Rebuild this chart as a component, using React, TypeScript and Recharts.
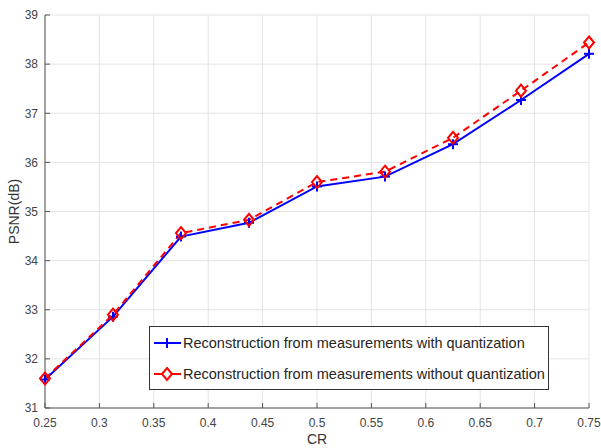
import React from 'react'
import {
  LineChart,
  Line,
  XAxis,
  YAxis,
  CartesianGrid,
  Legend,
} from 'recharts'

// compression ratio on the x axis
const crValues = [0.25, 0.3125, 0.375, 0.4375, 0.5, 0.5625, 0.625, 0.6875, 0.75]
const psnrWithQuant = [31.58, 32.86, 34.49, 34.77, 35.51, 35.71, 36.37, 37.27, 38.21]
const psnrWithoutQuant = [31.6, 32.9, 34.56, 34.83, 35.6, 35.81, 36.5, 37.46, 38.44]

const xTicks = [0.25, 0.3, 0.35, 0.4, 0.45, 0.5, 0.55, 0.6, 0.65, 0.7, 0.75]
const yTicks = [31, 32, 33, 34, 35, 36, 37, 38, 39]

const seriesNames = [
  'Reconstruction from measurements with quantization',
  'Reconstruction from measurements without quantization',
]

const BLUE = '#0000ff'
const RED = '#ff0000'
const FONT = '"Liberation Sans", Arial, Helvetica, sans-serif'
const AXIS_COLOR = '#555555'
const TICK_STYLE = { fontSize: 12, fill: '#444444', fontFamily: FONT }
const LABEL_STYLE = { fontSize: 14, fill: '#333333', fontFamily: FONT }

const chartData = crValues.map((cr, i) => ({
  cr,
  withQuant: psnrWithQuant[i],
  withoutQuant: psnrWithoutQuant[i],
}))

interface DotProps {
  cx?: number
  cy?: number
  index?: number
}

const PlusDot = ({ cx, cy }: DotProps): React.JSX.Element | null => {
  if (cx === undefined || cy === undefined) return null
  return (
    <g stroke={BLUE} strokeWidth={2}>
      <line x1={cx - 5} y1={cy} x2={cx + 5} y2={cy} />
      <line x1={cx} y1={cy - 5} x2={cx} y2={cy + 5} />
    </g>
  )
}

const DiamondDot = ({ cx, cy }: DotProps): React.JSX.Element | null => {
  if (cx === undefined || cy === undefined) return null
  return (
    <path
      d={`M${cx},${cy - 6} L${cx + 5},${cy} L${cx},${cy + 6} L${cx - 5},${cy} Z`}
      fill="none"
      stroke={RED}
      strokeWidth={2}
    />
  )
}

const LegendBox = (): React.JSX.Element => (
  <div
    style={{
      width: 398,
      height: 62,
      border: '1px solid #333333',
      background: '#ffffff',
      fontFamily: FONT,
      fontSize: 14.5,
      color: '#262626',
      boxSizing: 'content-box',
    }}
  >
    {seriesNames.map((name, i) => (
      <div
        key={name}
        style={{ display: 'flex', alignItems: 'center', height: 31, paddingLeft: 3 }}
      >
        <svg width={30} height={16} style={{ flex: 'none' }}>
          {i === 0 ? (
            <g stroke={BLUE} strokeWidth={2}>
              <line x1={1} y1={8} x2={28} y2={8} />
              <line x1={14} y1={3} x2={14} y2={13} />
            </g>
          ) : (
            <g stroke={RED} strokeWidth={2} fill="none">
              <line x1={1} y1={8} x2={28} y2={8} />
              <path d="M14,2 L19,8 L14,14 L9,8 Z" fill="#ffffff" />
            </g>
          )}
        </svg>
        <span style={{ whiteSpace: 'nowrap' }}>{name}</span>
      </div>
    ))}
  </div>
)

export default function App(): React.JSX.Element {
  return (
    <div style={{ position: 'absolute', left: 0, top: 0, width: 601, height: 448, background: '#ffffff' }}>
      <LineChart
        width={601}
        height={448}
        data={chartData}
        margin={{ top: 15, right: 12, left: 0, bottom: 0 }}
      >
        <CartesianGrid stroke="#e3e3e3" strokeWidth={1} />
        <XAxis
          dataKey="cr"
          type="number"
          domain={[0.25, 0.75]}
          ticks={xTicks}
          height={40}
          tickSize={-5}
          tickMargin={15}
          tick={TICK_STYLE}
          stroke={AXIS_COLOR}
          interval={0}
          label={{ value: 'CR', position: 'insideBottom', offset: 4, style: LABEL_STYLE }}
        />
        <XAxis
          xAxisId="top"
          orientation="top"
          type="number"
          domain={[0.25, 0.75]}
          allowDataOverflow
          ticks={xTicks}
          height={0}
          tickSize={-5}
          tick={false}
          stroke={AXIS_COLOR}
        />
        <YAxis
          type="number"
          domain={[31, 39]}
          ticks={yTicks}
          width={45}
          tickSize={-5}
          tickMargin={12}
          tick={TICK_STYLE}
          stroke={AXIS_COLOR}
          interval={0}
          label={{
            value: 'PSNR(dB)',
            angle: -90,
            position: 'insideLeft',
            offset: 14,
            style: { ...LABEL_STYLE, textAnchor: 'middle' },
          }}
        />
        <YAxis
          yAxisId="right"
          orientation="right"
          type="number"
          domain={[31, 39]}
          allowDataOverflow
          ticks={yTicks}
          width={0}
          tickSize={-5}
          tick={false}
          stroke={AXIS_COLOR}
        />
        <Line
          dataKey="withQuant"
          name={seriesNames[0]}
          stroke={BLUE}
          strokeWidth={2}
          dot={(p: DotProps) => <PlusDot key={`p-${String(p.index)}`} {...p} />}
          activeDot={false}
          isAnimationActive={false}
        />
        <Line
          dataKey="withoutQuant"
          name={seriesNames[1]}
          stroke={RED}
          strokeWidth={2}
          strokeDasharray="7 5"
          dot={(p: DotProps) => <DiamondDot key={`d-${String(p.index)}`} {...p} />}
          activeDot={false}
          isAnimationActive={false}
        />
        <Legend
          layout="horizontal"
          verticalAlign="middle"
          align="center"
          content={<LegendBox />}
          wrapperStyle={{ left: 149, top: 326, width: 400, height: 64 }}
        />
      </LineChart>
    </div>
  )
}
